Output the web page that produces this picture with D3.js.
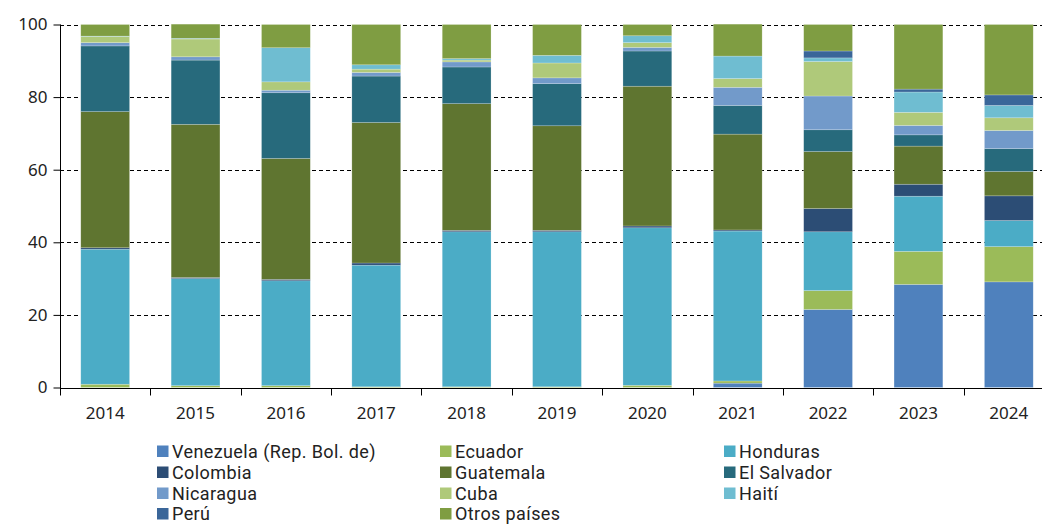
<!DOCTYPE html>
<html><head><meta charset="utf-8">
<script src="https://cdn.jsdelivr.net/npm/d3@7"></script>
<style>body{margin:0;background:#fff}svg{display:block}text{font-family:"Noto Sans",sans-serif;fill:#222}</style>
</head><body><svg id="c" width="1042" height="525"></svg>
<script>
const years = ["2014","2015","2016","2017","2018","2019","2020","2021","2022","2023","2024"];
const seriesNames = ["Venezuela (Rep. Bol. de)","Ecuador","Honduras","Colombia","Guatemala","El Salvador","Nicaragua","Cuba","Haití","Perú","Otros países"];
const colors = ["#4f81bd","#9bbb59","#4bacc6","#2c4d75","#5f7530","#276a7c","#729aca","#afc97a","#6fbdd1","#3a6699","#7f9d42"];
const venezuela  = [0,   0,   0,   0,   0,   0,   0,   1.2, 21.5, 28.4, 29.1];
const ecuador    = [0.9, 0.5, 0.5, 0.2, 0.2, 0.2, 0.6, 0.6, 5.2,  9.1,  9.7];
const honduras   = [37.2,29.5,28.9,33.5,42.7,42.7,43.4,41.3,16.2, 15.2, 7.2];
const colombia   = [0.4, 0.3, 0.4, 0.6, 0.4, 0.4, 0.5, 0.3, 6.4,  3.3,  6.8];
const guatemala  = [37.5,42.2,33.3,38.7,34.9,28.8,38.5,26.4,15.7, 10.5, 6.7];
const elSalvador = [18.1,17.7,18.1,12.8,10.1,11.6,9.7, 7.9, 6.0,  3.1,  6.3];
const nicaragua  = [0.9, 0.9, 0.7, 1.0, 1.4, 1.6, 1.0, 5.0, 9.3,  2.6,  5.0];
const cuba       = [1.7, 4.9, 2.3, 0.9, 0.5, 4.1, 1.3, 2.4, 9.5,  3.6,  3.5];
const haiti      = [0.1, 0.2, 9.4, 1.2, 0.4, 2.1, 1.9, 6.2, 1.0,  5.6,  3.4];
const peru       = [0,   0,   0,   0,   0,   0,   0,   0,   1.9,  0.8,  2.9];
const otros      = [3.2, 3.9, 6.4, 11.1,9.4, 8.5, 3.1, 8.8, 7.3,  17.8, 19.4];
const yTicks = [0,20,40,60,80,100];

const seriesValues = [venezuela,ecuador,honduras,colombia,guatemala,elSalvador,nicaragua,cuba,haiti,peru,otros];
const table = years.map((y,i)=>{const o={year:y};seriesNames.forEach((n,k)=>o[n]=seriesValues[k][i]);return o;});

const svg = d3.select("#c");
const x = d3.scaleBand().domain(years).range([60,1054]).paddingInner(0.46).paddingOuter(0.23);
const y = d3.scaleLinear().domain([0,100]).range([387.5,24.5]);

// gridlines
svg.append("g").selectAll("line").data(yTicks.filter(d=>d>0)).join("line")
  .attr("x1",60).attr("x2",1042).attr("y1",d=>Math.round(y(d))+0.5).attr("y2",d=>Math.round(y(d))+0.5)
  .attr("stroke","#000").attr("stroke-width",1).attr("stroke-dasharray","4,3");

const stack = d3.stack().keys(seriesNames)(table);
svg.append("g").selectAll("g").data(stack).join("g")
  .attr("fill",(d,i)=>colors[i])
  .selectAll("rect").data(d=>d).join("rect")
  .attr("x",d=>x(d.data.year)).attr("width",x.bandwidth())
  .attr("y",d=>y(d[1])).attr("height",d=>Math.max(0,y(d[0])-y(d[1])))
  .attr("stroke","rgba(255,255,255,0.35)").attr("stroke-width",0.6);

// y axis
const ya = svg.append("g").attr("transform","translate(60.5,0)")
  .call(d3.axisLeft(y).tickValues(yTicks).tickSize(7).tickPadding(6).tickFormat(d3.format("d")));
ya.select(".domain").attr("d","M0,"+y(100)+"V"+(y(0)+6)).attr("stroke","#000");
ya.selectAll("text").attr("font-size",17).attr("font-family","Noto Sans").attr("fill","#222");

// x axis
const xa = svg.append("g").attr("transform","translate(0,"+(Math.round(y(0))+0.5)+")");
xa.append("line").attr("x1",60).attr("x2",1042).attr("stroke","#000");
const bounds = years.map(d=>x(d)-x.step()*x.paddingInner()/2);
xa.selectAll("line.t").data(bounds).join("line").attr("class","t")
  .attr("x1",d=>Math.round(d)+0.5).attr("x2",d=>Math.round(d)+0.5).attr("y1",0).attr("y2",7).attr("stroke","#000");
xa.selectAll("text").data(years).join("text")
  .attr("x",d=>x(d)+x.bandwidth()/2).attr("y",30).attr("text-anchor","middle")
  .attr("font-size",17).text(d=>d);

// legend
const colX = [157,440,724];
const rowY = [451.5,472.5,493.5,514];
const lg = svg.append("g");
seriesNames.forEach((n,i)=>{
  const c=i%3, r=Math.floor(i/3);
  const g = lg.append("g").attr("transform",`translate(${colX[c]},${rowY[r]})`);
  g.append("rect").attr("x",0).attr("y",-6).attr("width",11.5).attr("height",11.5).attr("fill",colors[i]);
  g.append("text").attr("x",15).attr("y",0).attr("dy","0.36em").attr("font-size",18)
    .style("font-family","Roboto").style("letter-spacing","0.4px").text(n);
});
</script></body></html>
